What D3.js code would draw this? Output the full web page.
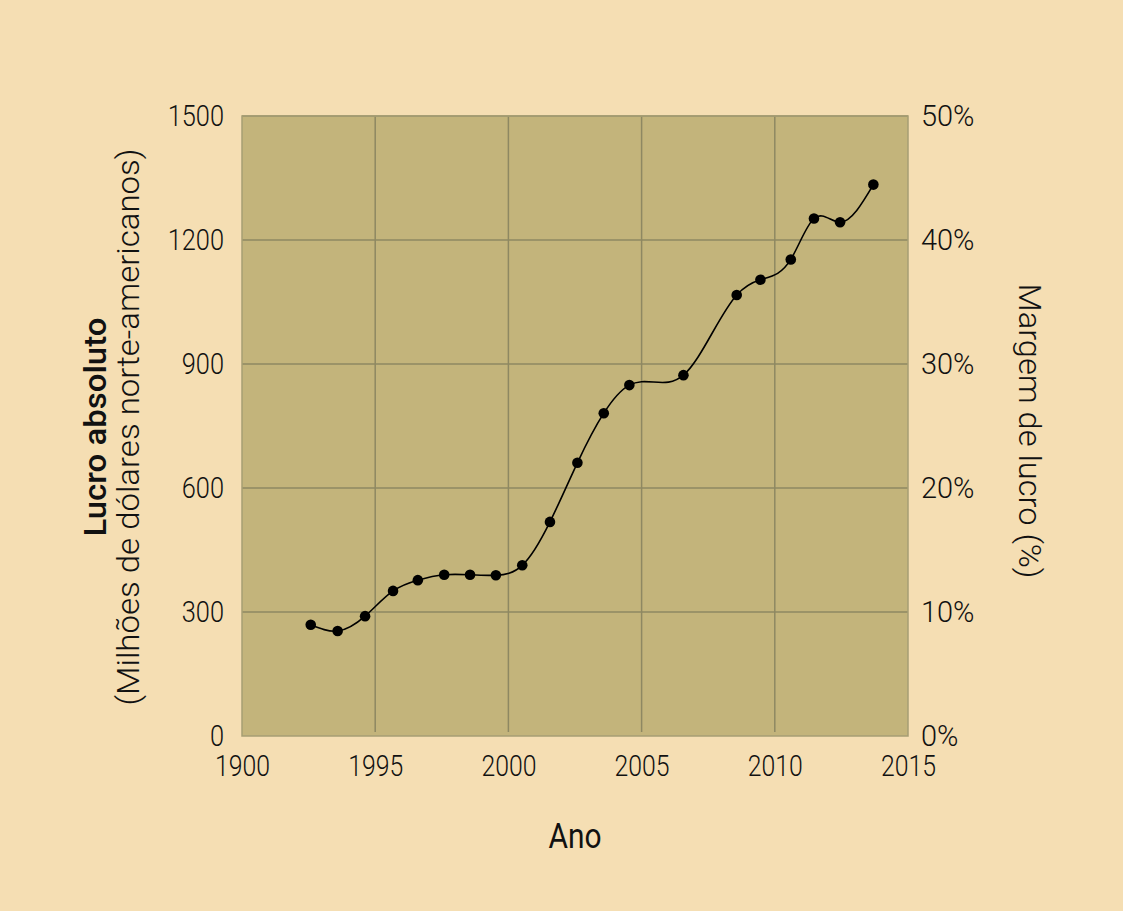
<!DOCTYPE html>
<html>
<head>
<meta charset="utf-8">
<script src="https://cdn.jsdelivr.net/npm/d3@7"></script>
<style>
  html, body { margin: 0; padding: 0; background: #F5DEB3; }
  svg { display: block; }
  text { font-family: Roboto, "Noto Sans", sans-serif; fill: #111; }
</style>
</head>
<body>
<svg id="chart" width="1123" height="911"></svg>
<script>
// ---- data ----
const years = [1992.58, 1993.59, 1994.62, 1995.67, 1996.6, 1997.59, 1998.56, 1999.53, 2000.52, 2001.56,
               2002.59, 2003.58, 2004.54, 2006.57, 2008.57, 2009.46, 2010.6, 2011.47, 2012.45, 2013.7];
const profit = [269, 254, 290, 351, 377, 390, 390, 389, 413, 518,
                661, 781, 849, 873, 1067, 1104, 1153, 1252, 1243, 1334];
const xTickValues = [1990, 1995, 2000, 2005, 2010, 2015];
const xTickLabels = ["1900", "1995", "2000", "2005", "2010", "2015"];
const yTickValues = [0, 300, 600, 900, 1200, 1500];
const y2TickValues = [0, 10, 20, 30, 40, 50];
const xTitle = "Ano";
const yTitle1 = "Lucro absoluto";
const yTitle2 = "(Milhões de dólares norte-americanos)";
const y2Title = "Margem de lucro (%)";

// natural cubic spline y(x) (parameterised by x) as a d3 curve factory
function NaturalX(context) { this._context = context; }
NaturalX.prototype = {
  areaStart() { this._line = 0; },
  areaEnd() { this._line = NaN; },
  lineStart() { this._x = []; this._y = []; },
  point(px, py) { this._x.push(+px); this._y.push(+py); },
  lineEnd() {
    const X = this._x, Y = this._y, n = X.length, c = this._context;
    if (!n) return;
    c.moveTo(X[0], Y[0]);
    if (n < 3) { for (let i = 1; i < n; i++) c.lineTo(X[i], Y[i]); return; }
    const h = [], M = new Array(n).fill(0);
    for (let i = 0; i < n - 1; i++) h.push(X[i + 1] - X[i]);
    const a = [], b = [], cc = [], d = [];
    for (let i = 1; i < n - 1; i++) {
      a.push(h[i - 1]); b.push(2 * (h[i - 1] + h[i])); cc.push(h[i]);
      d.push(6 * ((Y[i + 1] - Y[i]) / h[i] - (Y[i] - Y[i - 1]) / h[i - 1]));
    }
    const m = b.length;
    for (let i = 1; i < m; i++) {
      const w = a[i] / b[i - 1];
      b[i] -= w * cc[i - 1]; d[i] -= w * d[i - 1];
    }
    const sol = new Array(m);
    sol[m - 1] = d[m - 1] / b[m - 1];
    for (let i = m - 2; i >= 0; i--) sol[i] = (d[i] - cc[i] * sol[i + 1]) / b[i];
    for (let i = 0; i < m; i++) M[i + 1] = sol[i];
    for (let i = 0; i < n - 1; i++) {
      const hi = h[i], dy = (Y[i + 1] - Y[i]) / hi;
      const s0 = dy - hi * (2 * M[i] + M[i + 1]) / 6;
      const s1 = dy + hi * (M[i] + 2 * M[i + 1]) / 6;
      c.bezierCurveTo(X[i] + hi / 3, Y[i] + s0 * hi / 3, X[i + 1] - hi / 3, Y[i + 1] - s1 * hi / 3, X[i + 1], Y[i + 1]);
    }
  }
};
const curveNaturalX = (context) => new NaturalX(context);

// ---- layout ----
const svg = d3.select("#chart");
const L = 242, R = 908, T = 116, B = 736;
const x = d3.scaleLinear().domain([1990, 2015]).range([L, R]);
const y = d3.scaleLinear().domain([0, 1500]).range([B, T]);
const y2 = d3.scaleLinear().domain([0, 50]).range([B, T]);

svg.append("rect").attr("width", 1123).attr("height", 911).attr("fill", "#F5DEB3");

// plot background
svg.append("rect").attr("x", L).attr("y", T).attr("width", R - L).attr("height", B - T)
  .attr("fill", "#C3B47B");

// grid
const grid = svg.append("g");
grid.selectAll("line.h").data(yTickValues.slice(1, -1)).join("line")
  .attr("x1", L).attr("x2", R).attr("y1", d => y(d)).attr("y2", d => y(d))
  .attr("stroke", "#8E8862").attr("stroke-width", 1.5);
grid.selectAll("line.v").data(xTickValues.slice(1, -1)).join("line")
  .attr("x1", d => x(d)).attr("x2", d => x(d)).attr("y1", T).attr("y2", B - 4)
  .attr("stroke", "#8E8862").attr("stroke-width", 1.5);
grid.append("line").attr("x1", L).attr("x2", R).attr("y1", T).attr("y2", T)
  .attr("stroke", "#8E8862").attr("stroke-width", 1.5);

// border
svg.append("rect").attr("x", L).attr("y", T).attr("width", R - L).attr("height", B - T)
  .attr("fill", "none").attr("stroke", "#A69E74").attr("stroke-width", 1.5);

// axes (labels only)
const fmtX = (d) => xTickLabels[xTickValues.indexOf(d)];
const gx = svg.append("g").attr("transform", `translate(0,${B})`)
  .call(d3.axisBottom(x).tickValues(xTickValues).tickFormat(fmtX).tickSize(0).tickPadding(19));
const gy = svg.append("g").attr("transform", `translate(${L},0)`)
  .call(d3.axisLeft(y).tickValues(yTickValues).tickFormat(d => String(d)).tickSize(0).tickPadding(18));
const gy2 = svg.append("g").attr("transform", `translate(${R},0)`)
  .call(d3.axisRight(y2).tickValues(y2TickValues).tickFormat(d => d + "%").tickSize(0).tickPadding(13));
[gx, gy, gy2].forEach(g => {
  g.select(".domain").remove();
  g.selectAll("text").attr("font-family", "Roboto").attr("font-size", 29.5)
    .attr("font-weight", 300).attr("fill", "#000");
});
gx.selectAll("text").attr("dy", "0.71em");

function condense(sel, factor) {
  sel.each(function () {
    const len = this.getComputedTextLength();
    d3.select(this).attr("textLength", len * factor).attr("lengthAdjust", "spacingAndGlyphs");
  });
}
condense(gx.selectAll("text"), 0.84);
condense(gy.selectAll("text"), 0.86);
condense(gy2.selectAll("text"), 0.98);

// line
const line = d3.line().x((d, i) => x(years[i])).y(d => y(d)).curve(curveNaturalX);
svg.append("path").datum(profit).attr("d", line)
  .attr("fill", "none").attr("stroke", "#000").attr("stroke-width", 1.6);
svg.selectAll("circle.pt").data(profit).join("circle")
  .attr("cx", (d, i) => x(years[i])).attr("cy", d => y(d)).attr("r", 5.3).attr("fill", "#000");

// titles
function fit(t, target) {
  t.attr("textLength", target).attr("lengthAdjust", "spacingAndGlyphs");
}
fit(svg.append("text").attr("x", 575).attr("y", 848).attr("text-anchor", "middle")
  .attr("font-size", 35).attr("font-weight", 400).text(xTitle), 53);
fit(svg.append("text").attr("transform", "translate(106,427) rotate(-90)")
  .attr("text-anchor", "middle").attr("font-size", 32).attr("font-weight", 500).text(yTitle1), 219);
fit(svg.append("text").attr("transform", "translate(139,427) rotate(-90)")
  .attr("text-anchor", "middle").attr("font-size", 32).attr("font-weight", 300).text(yTitle2), 557);
fit(svg.append("text").attr("transform", "translate(1019,431) rotate(90)")
  .attr("text-anchor", "middle").attr("font-size", 32).attr("font-weight", 300).text(y2Title), 295);
</script>
</body>
</html>
